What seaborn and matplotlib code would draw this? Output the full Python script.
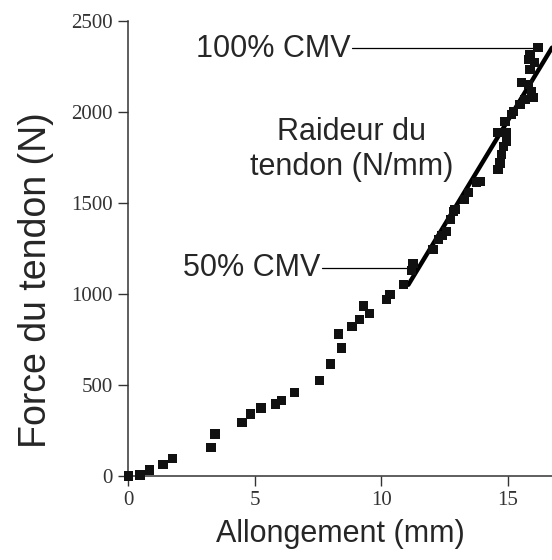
import numpy as np
import matplotlib.pyplot as plt
import pandas as pd
import seaborn as sns

# elongation (mm) and tendon force (N)
allongement = [0, 0.46, 0.84, 1.37, 1.75, 3.27, 3.43, 4.49, 4.84, 5.25, 5.83, 6.07,
               6.57, 7.55, 8.0, 8.42, 8.31, 8.84, 9.14, 9.30, 9.54, 10.2, 10.35,
               10.88, 11.2, 11.25,
               12.05, 12.25, 12.4, 12.58, 12.73, 12.85, 12.91, 13.3, 13.44, 13.77,
               13.9, 14.62, 14.69, 14.76, 14.82, 14.96, 14.62, 14.96, 14.89, 15.15,
               15.48, 15.22, 15.68, 16.0, 15.94, 15.81, 15.55, 15.88, 16.07, 15.81,
               15.88, 16.2]
force = [0, 5, 33, 64, 97, 156, 231, 295, 341, 374, 396, 414,
         460, 524, 615, 702, 780, 820, 861, 934, 894, 971, 995,
         1053, 1130, 1165,
         1243, 1298, 1320, 1343, 1408, 1453, 1463, 1518, 1555, 1610,
         1618, 1683, 1719, 1765, 1811, 1840, 1885, 1885, 1948, 1985,
         2040, 2003, 2068, 2077, 2113, 2150, 2159, 2233, 2269, 2288,
         2315, 2352]

# stiffness line between 50% and 100% MVC
raideur_x = [11.07, 16.75]
raideur_y = [1050, 2352]

df = pd.DataFrame({"Allongement": allongement, "Force": force})

sns.set_style("ticks")
plt.rcParams["font.family"] = ["Liberation Sans", "DejaVu Sans"]

fig = plt.figure(figsize=(5.52, 5.60), dpi=100)
ax = fig.add_axes([0.2324, 0.15, 0.7676, 0.813])

sns.lineplot(x=raideur_x, y=raideur_y, color="black", linewidth=3.2, ax=ax)
sns.scatterplot(x="Allongement", y="Force", data=df, marker="s", s=45,
                color="#111111", edgecolor="none", ax=ax, clip_on=False, zorder=3)

# leader lines for the annotations
ax.plot([8.85, 16.3], [2352, 2352], color="black", linewidth=0.9)
ax.plot([7.67, 11.25], [1144, 1144], color="black", linewidth=0.9)
ax.text(8.77, 2343, "100% CMV", ha="right", va="center", fontsize=22)
ax.text(7.58, 1144, "50% CMV", ha="right", va="center", fontsize=22)
ax.text(8.84, 1793, "Raideur du\ntendon (N/mm)", ha="center", va="center",
        fontsize=22, linespacing=1.2)

ax.set_xlim(0, 16.75)
ax.set_ylim(0, 2500)
ax.set_xticks([0, 5, 10, 15])
ax.set_yticks([0, 500, 1000, 1500, 2000, 2500])
ax.tick_params(direction="out", length=7.5, width=1.0, color="#333333",
               labelsize=15, labelcolor="#333333")
for lab in ax.get_xticklabels() + ax.get_yticklabels():
    lab.set_family("Liberation Serif")

ax.set_xlabel("Allongement (mm)", fontsize=22, labelpad=6)
ax.set_ylabel("Force du tendon (N)", fontsize=27, labelpad=8)
ax.yaxis.set_label_coords(-0.175, 0.43)

sns.despine(ax=ax)
for side in ["left", "bottom"]:
    ax.spines[side].set_linewidth(1.1)
    ax.spines[side].set_color("#333333")

plt.savefig("out.png", dpi=100)
